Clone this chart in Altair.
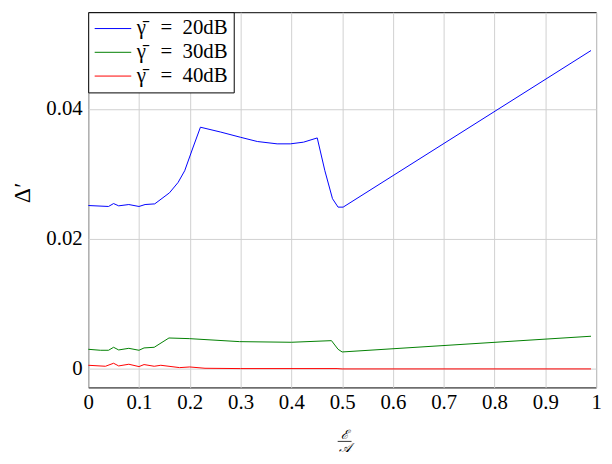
import altair as alt
import pandas as pd

series_names = ["γ̄\u2002\u2009=\u200220dB", "γ̄\u2002\u2009=\u200230dB", "γ̄\u2002\u2009=\u200240dB"]
series_colors = ["#0000ff", "#008000", "#ff0000"]

x20 = [0.0, 0.04, 0.05, 0.06, 0.08, 0.10, 0.112, 0.131, 0.16, 0.177, 0.19, 0.206, 0.221,
       0.261, 0.30, 0.333, 0.372, 0.398, 0.424, 0.451, 0.466, 0.481, 0.492, 0.502, 0.99]
y20 = [0.02515, 0.0250, 0.02545, 0.0251, 0.0253, 0.0250, 0.0253, 0.0254, 0.0271, 0.0287, 0.0305,
       0.0340, 0.0372, 0.03645, 0.03565, 0.0350, 0.03464, 0.03464, 0.0349, 0.03555, 0.0305,
       0.0262, 0.0249, 0.0249, 0.0490]

x30 = [0.0, 0.024, 0.04, 0.05, 0.06, 0.08, 0.10, 0.11, 0.13, 0.159, 0.199, 0.298, 0.40,
       0.479, 0.492, 0.50, 0.99]
y30 = [0.00302, 0.00287, 0.00287, 0.00333, 0.00292, 0.00317, 0.00287, 0.00323, 0.00333,
       0.00476, 0.00466, 0.0042, 0.0041, 0.00435, 0.00302, 0.00261, 0.00503]

x40 = [0.0, 0.034, 0.05, 0.06, 0.08, 0.10, 0.11, 0.13, 0.143, 0.18, 0.20, 0.23, 0.30, 0.49, 0.50, 0.99]
y40 = [0.00056, 0.00041, 0.00087, 0.00046, 0.00072, 0.00036, 0.00067, 0.00041, 0.00056,
       0.0002, 0.0003, 0.0001, 0.00005, 0.00005, 0.0, 0.0]

x_ticks = [0, 0.1, 0.2, 0.3, 0.4, 0.5, 0.6, 0.7, 0.8, 0.9, 1]
y_ticks = [0, 0.02, 0.04]

rows = []
for name, xs, ys in zip(series_names, [x20, x30, x40], [y20, y30, y40]):
    for i, (a, b) in enumerate(zip(xs, ys)):
        rows.append({"s": name, "x": a, "y": b, "o": i})
df = pd.DataFrame(rows)

FONT = "Liberation Serif"
FS = 21

lines = alt.Chart(df).mark_line(strokeWidth=1, clip=True).encode(
    x=alt.X("x:Q", scale=alt.Scale(domain=[0, 1], nice=False, zero=False),
            axis=alt.Axis(values=x_ticks, format="~g", title=None, labelFontSize=FS,
                          labelFont=FONT, labelFlush=False,
                          labelPadding=4, grid=True, ticks=False)),
    y=alt.Y("y:Q", scale=alt.Scale(domain=[-0.00285, 0.0549], nice=False, zero=False),
            axis=alt.Axis(values=y_ticks, format="~g", title="Δ′", titleFontSize=24,
                          labelFont=FONT, titleFont=FONT, labelFlush=False,
                          titleFontWeight="normal", titleX=-66, titleY=182, titleAngle=-90,
                          titleAlign="center", titleBaseline="middle",
                          labelFontSize=FS, labelPadding=6, grid=True, ticks=False)),
    color=alt.Color("s:N", scale=alt.Scale(domain=series_names, range=series_colors),
                    legend=alt.Legend(title=None, orient="top-left", offset=0,
                                      labelFontSize=FS, labelFont=FONT, symbolType="stroke",
                                      symbolSize=1369, symbolStrokeWidth=1,
                                      clipHeight=21,
                                      strokeColor="black", fillColor="white",
                                      padding=6, rowPadding=2, labelOffset=5,
                                      cornerRadius=0)),
    order="o:Q",
)

num = alt.Chart(pd.DataFrame({"t": ["ℰ"]})).mark_text(
    font=FONT, fontSize=13, fontStyle="italic", align="center", baseline="alphabetic"
).encode(text="t:N", x=alt.value(259), y=alt.value(431))
den = alt.Chart(pd.DataFrame({"t": ["𝒜"]})).mark_text(
    font=FONT, fontSize=13, fontStyle="italic", align="center", baseline="top"
).encode(text="t:N", x=alt.value(259), y=alt.value(434.5))
bar = alt.Chart(pd.DataFrame({"t": [1]})).mark_rule(color="black", strokeWidth=0.8).encode(
    x=alt.value(252), x2=alt.value(266), y=alt.value(433.5))

chart = alt.layer(lines, num, den, bar).properties(
    width=513, height=379,
    autosize=alt.AutoSizeParams(type="none"),
    padding={"left": 81, "top": 2, "right": 8, "bottom": 67},
).configure(font=FONT).configure_view(
    stroke="black", strokeWidth=1
).configure_axis(
    gridColor="#d0d0d0", gridWidth=1, domain=False, labelColor="black", titleColor="black",
    labelFont=FONT, titleFont=FONT
).configure_legend(
    labelFont=FONT, labelColor="black"
).configure_text(font=FONT)

chart.save("out.html", embed_options={"renderer": "svg", "actions": False})
